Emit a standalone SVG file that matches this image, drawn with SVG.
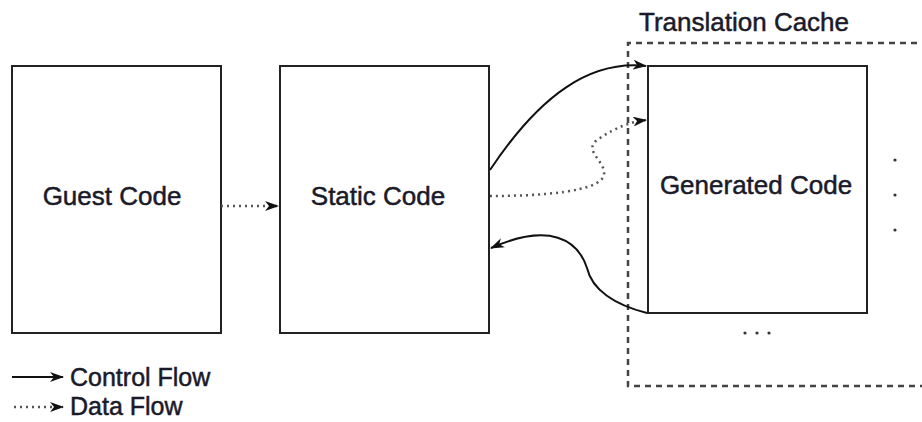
<svg xmlns="http://www.w3.org/2000/svg" width="922" height="422" viewBox="0 0 922 422">
  <style>
    .box { fill: #fff; stroke: #222; stroke-width: 2; }
    .lbl { font-family: "Liberation Sans", Arial, sans-serif; font-size: 26px; fill: #1a1a2a; stroke: #1a1a2a; stroke-width: 0.5; }
    .leg { font-size: 25px; }
    .ctl { fill: none; stroke: #111; stroke-width: 2; }
    .dat { fill: none; stroke: #555; stroke-width: 2.5; stroke-dasharray: 2 4; }
    .cache { fill: none; stroke: #444; stroke-width: 2.5; stroke-dasharray: 6 5; }
  </style>
  <defs>
    <marker id="arr" viewBox="0 0 14 10" refX="13" refY="5" markerWidth="14" markerHeight="10" markerUnits="userSpaceOnUse" orient="auto">
      <path d="M0,0 L14,5 L0,10 L4,5 Z" fill="#111"/>
    </marker>
  </defs>
  <rect width="922" height="422" fill="#fff"/>

  <!-- translation cache region -->
  <g id="translation-cache">
    <path class="cache" d="M928,43 H628 V386 H928"/>
    <text class="lbl" x="639" y="31">Translation Cache</text>
  </g>

  <g id="guest-code">
    <rect class="box" x="12" y="66" width="209" height="267"/>
    <text class="lbl" x="112" y="205" text-anchor="middle">Guest Code</text>
  </g>

  <g id="static-code">
    <rect class="box" x="280" y="66" width="209" height="267"/>
    <text class="lbl" x="378" y="205" text-anchor="middle">Static Code</text>
  </g>

  <g id="generated-code">
    <rect class="box" x="648" y="66" width="219" height="247"/>
    <text class="lbl" x="756" y="194" text-anchor="middle">Generated Code</text>
    <g fill="#333">
      <circle cx="895" cy="160" r="1.6"/>
      <circle cx="895" cy="195" r="1.6"/>
      <circle cx="895" cy="230" r="1.6"/>
      <circle cx="745" cy="333" r="1.6"/>
      <circle cx="757" cy="333" r="1.6"/>
      <circle cx="769" cy="333" r="1.6"/>
    </g>
  </g>

  <g id="connectors">
    <path class="dat" d="M221,206 H278" marker-end="url(#arr)"/>
    <path class="ctl" d="M490,170 C540,95 590,60 646,66" marker-end="url(#arr)"/>
    <path class="dat" d="M490,196 C540,196 600,192 604,175 C606,160 580,150 600,138 C615,128 630,122 646,120" marker-end="url(#arr)"/>
    <path class="ctl" d="M647,313 C615,305 592,290 587,268 C578,240 550,222 491,248" marker-end="url(#arr)"/>
  </g>

  <g id="legend">
    <path class="ctl" d="M12,377 H63" marker-end="url(#arr)"/>
    <text class="lbl leg" x="70" y="386">Control Flow</text>
    <path class="dat" d="M14,407 H63" marker-end="url(#arr)"/>
    <text class="lbl leg" x="70" y="415">Data Flow</text>
  </g>
</svg>
